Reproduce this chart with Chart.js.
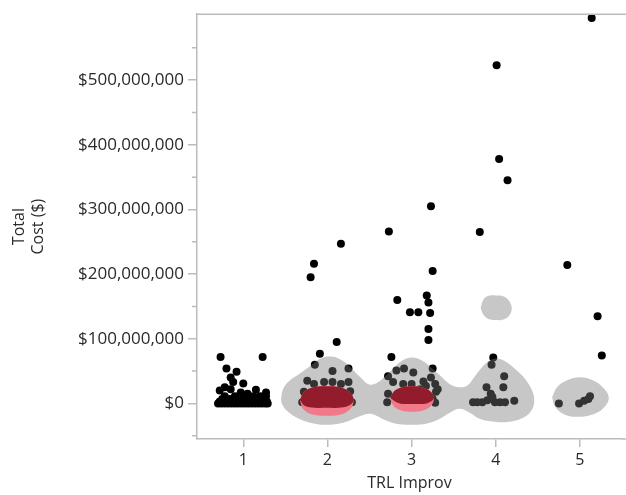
<!DOCTYPE html>
<html>
<head>
<meta charset="utf-8">
<script src="https://cdn.jsdelivr.net/npm/chart.js@4/dist/chart.umd.min.js"></script>
<style>
    body { margin: 0; background: #fff; }
    #wrap { width: 626px; height: 495px; }
</style>
</head>
<body>
<div id="wrap"><canvas id="chart" width="626" height="495"></canvas></div>
<script>
// jittered points, [trl improv, total cost in $M]
const trl1 = [
    [0.73, 72], [1.23, 72], [0.80, 54], [0.92, 49], [0.85, 40], [1.00, 31], [1.15, 21],
    [0.72, 20], [0.78, 25], [0.85, 22], [1.27, 17], [0.97, 17], [1.05, 15], [0.88, 33],
    [0.70, 0], [0.74, 0], [0.78, 0], [0.82, 0], [0.86, 0], [0.90, 0], [0.94, 0], [0.98, 0],
    [1.02, 0], [1.06, 0], [1.10, 0], [1.14, 0], [1.18, 0], [1.22, 0], [1.26, 0], [1.29, 0],
    [0.72, 3], [0.80, 3], [0.88, 3], [0.96, 3], [1.04, 3], [1.12, 3], [1.20, 3], [1.28, 3],
    [0.75, 7], [0.84, 7], [0.92, 7], [1.00, 7], [1.08, 7], [1.16, 7], [1.24, 7],
    [0.78, 11], [0.90, 11], [1.12, 11], [1.20, 11], [1.27, 11]
];
const trl2 = [
    [1.80, 195], [1.84, 216], [2.16, 247], [2.11, 95], [1.91, 77], [1.85, 60], [2.06, 50],
    [2.25, 54], [1.76, 35], [2.25, 33], [1.84, 30], [1.96, 33], [2.06, 33], [2.16, 30],
    [2.27, 19], [1.72, 18], [1.70, 2], [2.29, 2], [1.84, 7], [1.99, 10], [2.14, 7],
    [1.90, 0], [2.08, 0], [1.78, 12], [2.22, 12]
];
const trl3 = [
    [3.23, 305], [2.73, 266], [3.25, 205], [2.83, 160], [3.18, 167], [3.20, 156], [2.98, 141],
    [3.08, 141], [3.22, 140], [3.20, 115], [3.20, 98], [2.76, 72], [3.25, 54], [2.91, 54],
    [2.72, 42], [2.82, 51], [3.02, 48], [2.78, 33], [2.90, 30], [3.14, 34], [3.23, 40],
    [3.28, 30], [3.29, 18], [3.25, 7], [2.72, 15], [2.71, 2], [3.28, 1], [3.17, 27],
    [3.10, 22], [3.31, 22], [3.00, 30], [2.95, 10], [3.05, 5]
];
const trl4 = [
    [4.01, 523], [4.04, 378], [4.14, 345], [3.81, 265], [3.97, 71], [3.95, 60], [4.10, 42],
    [4.09, 25], [3.89, 25], [3.73, 2], [3.78, 2], [3.84, 2], [3.90, 5], [3.96, 10],
    [3.99, 2], [4.05, 2], [4.11, 2], [4.22, 4], [3.94, 15]
];
const trl5 = [
    [5.14, 596], [4.85, 214], [5.21, 135], [5.26, 74], [4.75, 0], [4.99, 0], [5.05, 4],
    [5.12, 11], [5.10, 7]
];

// density contours (outline vertices)
const grayContour234 = [
    [1.448, 6.9], [1.472, 22.1], [1.543, 34.4], [1.661, 45.0], [1.802, 58.8], [1.920, 69.5],
    [2.038, 72.5], [2.156, 67.9], [2.274, 55.7], [2.392, 40.5], [2.487, 29.8], [2.581, 31.3],
    [2.699, 43.5], [2.817, 58.8], [2.912, 67.9], [2.994, 71.0], [3.100, 67.9], [3.218, 57.3],
    [3.336, 43.5], [3.454, 29.8], [3.572, 25.2], [3.667, 28.2], [3.761, 43.5], [3.855, 58.8],
    [3.950, 67.9], [4.021, 69.5], [4.115, 64.9], [4.233, 52.7], [4.351, 37.4], [4.434, 19.1],
    [4.457, 3.8], [4.422, -11.5], [4.327, -22.1], [4.162, -28.2], [3.985, -28.2], [3.808, -23.7],
    [3.690, -14.5], [3.572, -8.4], [3.454, -14.5], [3.336, -23.7], [3.171, -31.3], [2.994, -32.8],
    [2.817, -31.3], [2.676, -25.2], [2.558, -17.6], [2.487, -16.0], [2.369, -20.6], [2.227, -28.2],
    [2.038, -32.8], [1.850, -31.3], [1.661, -23.7], [1.519, -11.5], [1.460, -0.8], [1.448, 6.9]
];
const grayContour4Top = [
    [3.82, 148], [3.86, 162], [3.93, 167], [4.00, 167], [4.08, 166], [4.15, 160], [4.19, 148],
    [4.16, 136], [4.09, 130], [4.00, 129], [3.91, 131], [3.85, 138], [3.82, 148]
];
const grayContour5 = [
    [4.670, 9.9], [4.729, 25.2], [4.847, 35.9], [5.000, 40.5], [5.153, 35.9], [5.271, 25.2],
    [5.342, 9.9], [5.295, -5.3], [5.177, -16.0], [5.000, -20.6], [4.823, -17.6], [4.705, -5.3],
    [4.670, 9.9]
];
const pinkContour2 = [
    [1.673, 3.8], [1.720, 17.6], [1.838, 25.2], [1.991, 26.7], [2.145, 25.2], [2.263, 17.6],
    [2.310, 3.8], [2.263, -9.9], [2.145, -17.6], [1.991, -19.1], [1.838, -17.6], [1.720, -9.9],
    [1.673, 3.8]
];
const redContour2 = [
    [1.673, 5.0], [1.720, 17.6], [1.838, 25.2], [1.991, 26.7], [2.145, 25.2], [2.263, 17.6],
    [2.310, 5.0], [2.250, -3.5], [2.130, -6.5], [1.991, -6.8], [1.850, -6.5], [1.730, -3.5],
    [1.673, 5.0]
];
const pinkContour3 = [
    [2.746, 6.9], [2.794, 19.1], [2.888, 25.2], [3.006, 26.7], [3.124, 25.2], [3.218, 19.1],
    [3.265, 6.9], [3.218, -5.3], [3.124, -11.5], [3.006, -13.0], [2.888, -11.5], [2.794, -5.3],
    [2.746, 6.9]
];
const redContour3 = [
    [2.746, 8.4], [2.794, 19.1], [2.888, 25.2], [3.006, 26.7], [3.124, 25.2], [3.218, 19.1],
    [3.265, 8.4], [3.195, 0.8], [3.076, -0.8], [2.959, -0.8], [2.841, 0.8], [2.746, 8.4]
];

const xTickValues = [1, 2, 3, 4, 5];
const yTickValues = [0, 100, 200, 300, 400, 500];
const yMinorTickValues = [-50, 50, 150, 250, 350, 450, 550];

const toXY = arr => arr.map(p => ({ x: p[0], y: p[1] }));

const contour = (pts, color, order) => ({
    data: toXY(pts),
    showLine: true,
    fill: 'shape',
    backgroundColor: color,
    borderWidth: 0,
    borderColor: 'rgba(0,0,0,0)',
    pointRadius: 0,
    tension: 0.4,
    order: order,
});

const axisGray = '#bcbcbc';
const textColor = '#2a2a2a';
const font = { family: 'Open Sans', size: 16 };

// minor y ticks and top frame line
const framePlugin = {
    id: 'frame',
    afterDraw(chart) {
        const { ctx, chartArea, scales } = chart;
        ctx.save();
        ctx.strokeStyle = axisGray;
        ctx.lineWidth = 1.5;
        ctx.beginPath();
        ctx.moveTo(chartArea.left, chartArea.top);
        ctx.lineTo(chart.width, chartArea.top);
        ctx.moveTo(chartArea.right, chartArea.bottom);
        ctx.lineTo(chart.width, chartArea.bottom);
        yMinorTickValues.forEach(v => {
            const y = scales.y.getPixelForValue(v);
            ctx.moveTo(chartArea.left - 5, y);
            ctx.lineTo(chartArea.left, y);
        });
        ctx.stroke();
        ctx.restore();
    }
};

const allPoints = [trl1, trl2, trl3, trl4, trl5].flat();

new Chart(document.getElementById('chart'), {
    type: 'scatter',
    data: {
        datasets: [
            {
                data: toXY(allPoints),
                backgroundColor: '#000',
                borderWidth: 0,
                pointRadius: 4,
                order: 4,
            },
            contour(grayContour234, 'rgba(122,122,122,0.42)', 3),
            contour(grayContour4Top, 'rgba(122,122,122,0.42)', 3),
            contour(grayContour5, 'rgba(122,122,122,0.42)', 3),
            contour(pinkContour2, 'rgb(240,122,137)', 2),
            contour(pinkContour3, 'rgb(240,122,137)', 2),
            contour(redContour2, 'rgb(146,28,44)', 1),
            contour(redContour3, 'rgb(146,28,44)', 1),
        ]
    },
    options: {
        responsive: false,
        animation: false,
        layout: { padding: { top: 8, right: 0, left: 0, bottom: 0 } },
        plugins: {
            legend: { display: false },
            tooltip: { enabled: false },
        },
        scales: {
            x: {
                type: 'linear',
                min: 0.45,
                max: 5.5,
                afterBuildTicks: (scale) => {
                    scale.ticks = xTickValues.map(v => ({ value: v }));
                },
                afterFit: (scale) => { scale.height = 56; },
                grid: {
                    drawOnChartArea: false,
                    tickLength: 8,
                    color: axisGray,
                    lineWidth: 1.5,
                },
                border: { color: axisGray, width: 1.5 },
                ticks: {
                    color: textColor,
                    font: font,
                    padding: 4,
                    maxRotation: 0,
                    callback: (v) => String(v),
                },
                title: {
                    display: true,
                    text: 'TRL Improv',
                    color: textColor,
                    font: font,
                    padding: { top: 0, bottom: 2 },
                },
            },
            y: {
                type: 'linear',
                min: -55,
                max: 602,
                afterBuildTicks: (scale) => {
                    scale.ticks = yTickValues.map(v => ({ value: v }));
                },
                afterFit: (scale) => { scale.width = 197; },
                grid: {
                    drawOnChartArea: false,
                    tickLength: 9,
                    color: axisGray,
                    lineWidth: 1.5,
                },
                border: { color: axisGray, width: 1.5 },
                ticks: {
                    color: textColor,
                    font: { family: 'Open Sans', size: 17 },
                    padding: 4,
                    callback: (v) => '$' + (v * 1000000).toLocaleString('en-US'),
                },
                title: {
                    display: true,
                    text: ['Total', 'Cost ($)'],
                    color: textColor,
                    font: font,
                    padding: { top: 10, bottom: 0 },
                },
            }
        }
    },
    plugins: [framePlugin]
});
</script>
</body>
</html>
